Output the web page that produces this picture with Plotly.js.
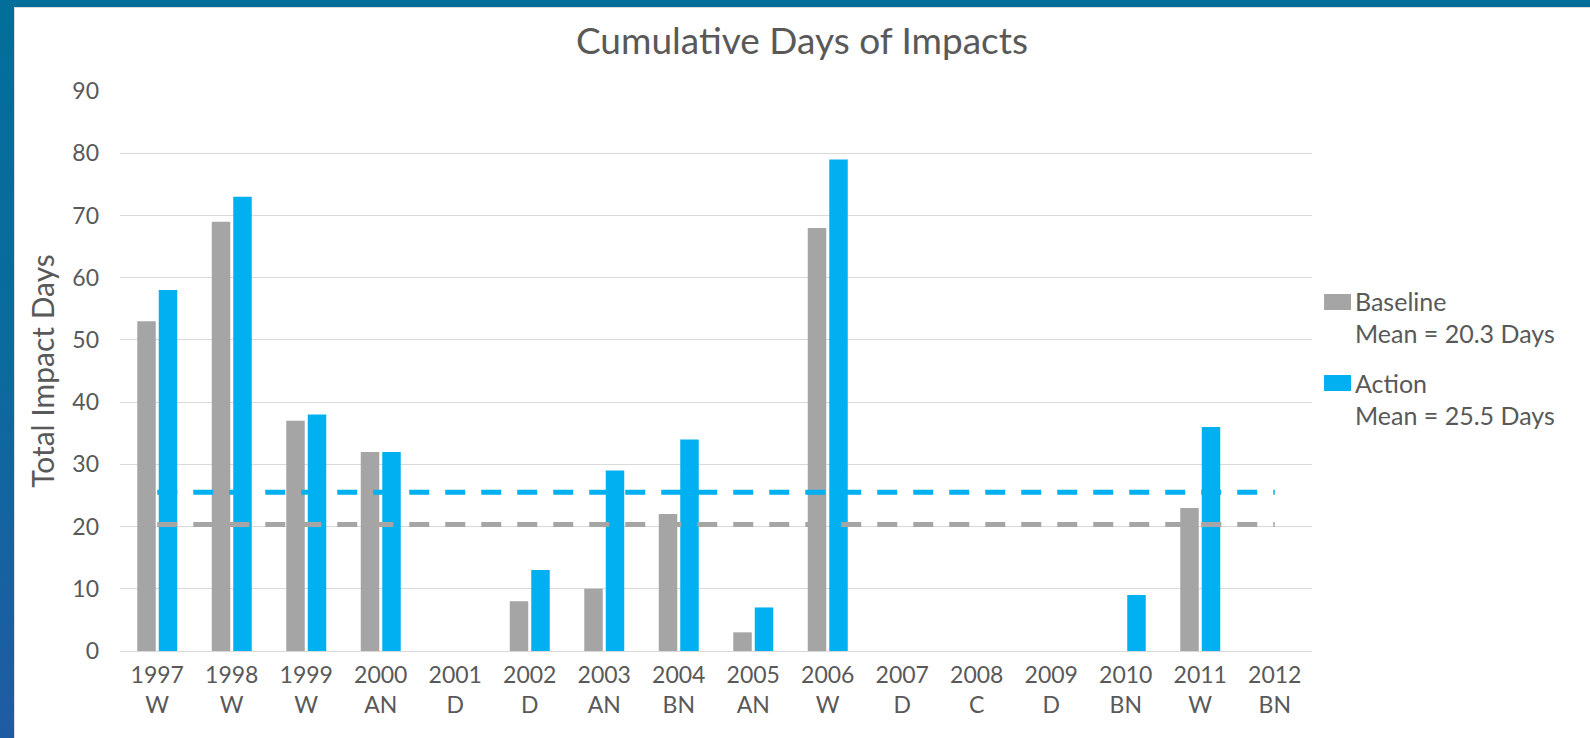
<!DOCTYPE html>
<html>
<head>
<meta charset="utf-8">
<script src="https://cdn.plot.ly/plotly-3.0.1.min.js"></script>
<style>
  html, body { margin:0; padding:0; width:1590px; height:738px; overflow:hidden;
    background: linear-gradient(to bottom, #036e9a 0%, #0b6a9e 50%, #1f5ba3 100%); }
  #frame { position:absolute; left:14px; top:7px; width:1576px; height:731px; background:#fff;
    box-shadow: inset 1px 1px 0 #dcdcdc; }
  #chart { position:absolute; left:0; top:0; width:1576px; height:731px; }
</style>
</head>
<body>
<div id="frame"><div id="chart"></div></div>
<script>
// ---- data ----
const years = ["1997","1998","1999","2000","2001","2002","2003","2004","2005","2006","2007","2008","2009","2010","2011","2012"];
const yearTypes = ["W","W","W","AN","D","D","AN","BN","AN","W","D","C","D","BN","W","BN"];
const baseline = [53, 69, 37, 32, 0, 8, 10, 22, 3, 68, 0, 0, 0, 0, 23, 0];
const action   = [58, 73, 38, 32, 0, 13, 29, 34, 7, 79, 0, 0, 0, 9, 36, 0];
const yTicks = [0,10,20,30,40,50,60,70,80,90];

const cats = years.map((y,i) => y + "<br>" + yearTypes[i]);
const mean = a => a.reduce((s,v)=>s+v,0)/a.length;
const mBase = mean(baseline), mAct = mean(action);

const GRAY = "#A5A5A5", BLUE = "#00B0F0", TXT = "#595959";
const FONT = "Lato, 'Open Sans', sans-serif";

const traces = [
  { type:"bar", x:cats, y:baseline, name:"Baseline<br>Mean = " + mBase.toFixed(1) + " Days",
    marker:{color:GRAY}, legendgroup:"b" },
  { type:"bar", x:cats, y:action, name:"Action<br>Mean = " + mAct.toFixed(1) + " Days",
    marker:{color:BLUE}, legendgroup:"a" },
  { type:"scatter", mode:"lines", x:cats, y:cats.map(()=>mAct), showlegend:false,
    line:{color:BLUE, width:5, dash:"20px,16px"}, hoverinfo:"skip" },
  { type:"scatter", mode:"lines", x:cats, y:cats.map(()=>mBase), showlegend:false,
    line:{color:GRAY, width:5, dash:"20px,16px"}, hoverinfo:"skip" }
];

const layout = {
  width:1576, height:731,
  margin:{l:106, r:278, t:84, b:87},
  paper_bgcolor:"rgba(0,0,0,0)", plot_bgcolor:"#fff",
  font:{family:FONT, color:TXT, size:23},
  title:{text:"Cumulative Days of Impacts", font:{family:FONT, size:37, color:TXT},
    x:0.5, xref:"container", y:0.9534, yref:"container", yanchor:"middle"},
  barmode:"group", bargap:0.423, bargroupgap:0.14,
  xaxis:{type:"category", showgrid:false, zeroline:false, showline:false, ticks:"",
    tickfont:{size:23, color:TXT}, ticklabelstandoff:8, automargin:false},
  yaxis:{range:[0,90], tickvals:yTicks, showgrid:true, gridcolor:"#D9D9D9", gridwidth:1,
    zeroline:true, zerolinecolor:"#D9D9D9", zerolinewidth:1, showline:false, ticks:"",
    tickfont:{size:23, color:TXT}, ticklabelstandoff:20, automargin:false,
    title:{text:"Total Impact Days", font:{size:30, color:TXT}, standoff:8}},
  legend:{x:1.0025, xanchor:"left", y:0.666, yanchor:"top", valign:"top",
    font:{size:25, color:TXT}, traceorder:"grouped", tracegroupgap:14,
    bgcolor:"rgba(0,0,0,0)", itemwidth:30},
  shapes:[
    {type:"rect", xref:"paper", yref:"paper", x0:1.0101, x1:1.0327, y0:0.6089, y1:0.6375,
      fillcolor:GRAY, line:{width:0}, layer:"above"},
    {type:"rect", xref:"paper", yref:"paper", x0:1.0101, x1:1.0327, y0:0.4643, y1:0.4929,
      fillcolor:BLUE, line:{width:0}, layer:"above"}
  ],
  showlegend:true
};

Plotly.newPlot("chart", traces, layout, {displayModeBar:false, staticPlot:true});
</script>
</body>
</html>
